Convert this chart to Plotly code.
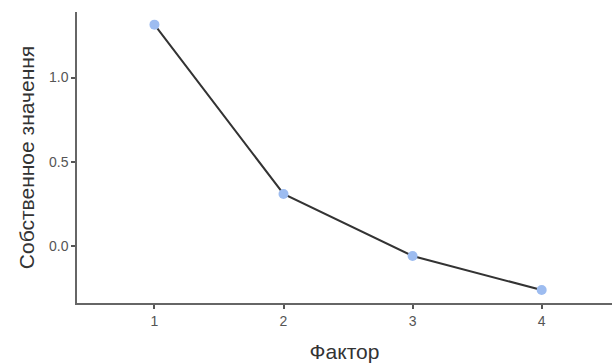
import plotly.graph_objects as go

factors = [1, 2, 3, 4]
eigenvalues = [1.314, 0.309, -0.059, -0.261]
x_ticks = [1, 2, 3, 4]
y_ticks = [0.0, 0.5, 1.0]
y_tick_labels = ["0.0", "0.5", "1.0"]

fig = go.Figure()
fig.add_trace(go.Scatter(
    x=factors, y=eigenvalues, mode="lines",
    line=dict(color="#333333", width=2), hoverinfo="skip", showlegend=False))
fig.add_trace(go.Scatter(
    x=factors, y=eigenvalues, mode="markers",
    marker=dict(color="#9dbcf0", size=10, line=dict(width=0)), showlegend=False))

axis_common = dict(
    showgrid=False, zeroline=False, showline=True, linecolor="#666666", linewidth=1.5,
    ticks="outside", ticklen=4, tickwidth=1.5, tickcolor="#555555",
    tickfont=dict(family="Liberation Sans, Arial, sans-serif", size=14, color="#555555"),
    title_font=dict(family="Liberation Sans, Arial, sans-serif", size=21, color="#333333"),
)
fig.update_xaxes(range=[0.4, 4.545], tickvals=x_ticks, title_text="Фактор",
                 title_standoff=18, **axis_common)
fig.update_yaxes(range=[-0.338, 1.389], tickvals=y_ticks, ticktext=y_tick_labels,
                 title_text="Собственное значення", title_standoff=9, **axis_common)

fig.update_layout(
    width=612, height=363,
    margin=dict(l=77, r=0, t=12, b=60),
    plot_bgcolor="white", paper_bgcolor="white",
)
fig.write_html("out.html")
